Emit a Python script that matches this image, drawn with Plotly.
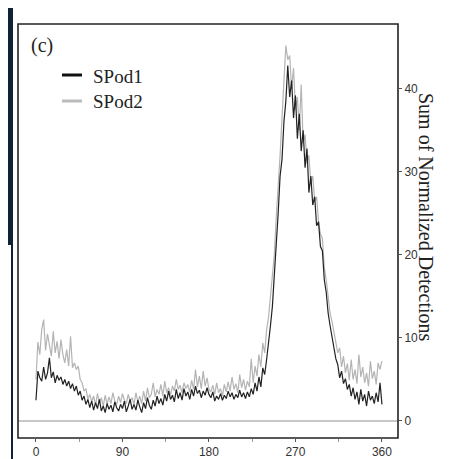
import plotly.graph_objects as go

# angle in degrees, sampled every 2 degrees
angle = list(range(0, 362, 2))

spod1 = [
    2.5, 6.0, 5.2, 4.8, 6.5, 5.0, 5.8, 7.6, 5.2, 5.9,
    4.6, 5.5, 4.9, 5.3, 4.4, 5.0, 4.2, 4.8, 3.9, 4.5,
    3.6, 4.2, 3.1, 3.6, 2.5, 3.0, 2.0, 2.6, 1.6, 2.4,
    1.3, 2.2, 1.5, 2.6, 1.2, 1.8, 1.0, 2.1, 1.4, 1.9,
    1.1, 2.3, 1.6, 1.2, 2.0, 1.5, 2.4, 1.1, 1.8, 2.6,
    1.4, 2.0, 1.3, 2.5, 1.7, 1.0, 2.2, 1.5, 2.8, 1.9,
    1.4, 2.5, 1.8, 3.0, 2.1, 2.7, 1.9, 3.2, 2.4, 3.6,
    2.6, 3.1, 2.3, 3.8, 2.7, 3.4, 2.5, 3.9, 3.0, 3.5,
    2.6, 3.8, 3.0, 4.2, 3.3, 3.7, 2.8, 3.6, 3.1, 4.0,
    3.2, 2.8, 3.5, 2.4, 3.0, 2.6, 3.3, 2.5, 3.1, 2.7,
    3.6, 2.9, 3.4, 2.6, 3.2, 2.8, 3.7, 2.9, 3.4, 2.7,
    3.5, 2.9, 3.9, 3.2, 4.6, 3.6, 5.3, 4.1, 6.4, 5.6,
    7.4, 9.2, 11.5, 13.8, 17.5, 20.5, 25.0, 29.5, 31.5, 36.0,
    38.5, 42.8, 39.0, 41.0, 36.5, 39.2, 34.0, 37.0, 32.5, 35.0,
    30.5, 32.8, 27.5, 29.5, 26.0, 27.0, 23.5, 24.0, 21.0, 20.5,
    17.0, 15.5, 13.0, 11.5, 10.0, 8.5, 7.5, 6.8, 5.2, 6.0,
    4.5, 5.1, 3.8, 4.4, 3.0, 4.0, 2.6, 3.5, 2.0, 3.8,
    2.4, 3.2, 1.8, 3.6, 2.5, 3.0, 2.1, 3.4, 2.3, 4.6,
    2.0,
]

spod2 = [
    5.0, 9.5, 8.0, 11.0, 12.2, 8.5, 10.5, 9.0, 7.8, 10.8,
    8.2, 9.6, 7.5, 9.8, 8.0, 7.0, 8.6, 6.6, 10.2, 6.4,
    7.0, 6.2, 6.6, 5.0, 4.6, 3.6, 3.9, 2.6, 3.2, 2.3,
    3.0, 1.9, 3.3, 2.2, 2.8, 1.8, 3.1, 2.0, 2.9, 2.1,
    3.4, 2.4, 2.0, 3.0, 2.2, 3.3, 2.5, 2.1, 3.2, 2.4,
    2.8, 2.0, 3.4, 2.3, 3.0, 2.1, 3.6, 2.4, 4.0, 2.8,
    3.2, 4.6, 2.9, 3.8, 3.2, 4.4, 3.0, 4.8, 3.4, 4.0,
    3.1, 4.2, 3.6, 5.0, 3.8, 4.3, 3.4, 4.6, 3.9, 4.4,
    3.5, 4.9, 3.8, 6.2, 4.1, 5.4, 3.9, 6.0, 4.2, 5.2,
    3.8, 3.5, 4.3, 3.2, 4.6, 3.4, 3.9, 3.0, 4.4, 3.5,
    4.7, 3.6, 5.3, 3.8, 4.5, 3.4, 5.6, 4.0, 5.0, 3.7,
    4.8, 4.1, 7.5, 4.6, 6.6, 5.4, 8.0, 6.5, 9.4, 8.2,
    11.0, 12.5, 15.0, 17.5, 20.0, 24.5, 28.0, 32.0, 36.5, 40.5,
    45.2, 43.5, 44.0, 40.0, 42.5, 37.5, 39.0, 35.0, 40.5, 33.5,
    34.5, 31.0, 32.0, 28.5, 29.5, 26.5, 27.0, 24.0, 22.5, 22.0,
    18.5, 17.0, 15.0, 13.0, 12.0, 10.5, 9.5, 8.2, 8.8, 6.5,
    7.8, 5.8, 6.9, 4.9, 7.4, 5.0, 6.2, 4.5, 8.0, 5.3,
    6.5, 4.6, 5.8, 4.2, 7.2, 5.1, 6.0, 4.4, 7.0, 6.2,
    7.2,
]

x_ticks = [0, 90, 180, 270, 360]
y_ticks = [0, 10, 20, 30, 40]

# the page body has an 8px margin, so the figure is shrunk by that much
# and every screen position below is given in window pixels
OFF = 8
W, H = 449 - OFF, 459 - OFF
L, R, T, B = 18, 398, 24, 438


def px(x):
    return (x - L) / (R - L)


def py(y):
    return (B - y) / (B - T)


fig = go.Figure()
fig.add_trace(go.Scatter(x=angle, y=spod2, mode="lines", name="SPod2",
                         line=dict(color="#b4b4b4", width=1.2)))
fig.add_trace(go.Scatter(x=angle, y=spod1, mode="lines", name="SPod1",
                         line=dict(color="#222", width=1.2)))

serif = "Liberation Serif, Times New Roman, serif"
sans = "Liberation Sans, Arial, sans-serif"
navy = "#0f2336"

shapes = [
    # frame of the panel
    dict(type="rect", xref="paper", yref="paper", x0=0, x1=1, y0=0, y1=1,
         line=dict(color="#222", width=1.6)),
    # bits of the neighbouring figure
    dict(type="rect", xref="paper", yref="paper", x0=px(OFF - 1), x1=px(13),
         y0=py(245), y1=py(OFF - 1), line_width=0, fillcolor=navy),
    dict(type="rect", xref="paper", yref="paper", x0=px(11), x1=px(13),
         y0=py(459 + 2), y1=py(245), line_width=0, fillcolor=navy),
    # legend keys
    dict(type="line", xref="paper", yref="paper", x0=px(62), x1=px(82),
         y0=py(75), y1=py(75), line=dict(color="#111", width=3)),
    dict(type="line", xref="paper", yref="paper", x0=px(62), x1=px(82),
         y0=py(101), y1=py(101), line=dict(color="#bbb", width=3)),
]

annotations = [
    dict(text="(c)", xref="paper", yref="paper", x=px(29), y=py(45),
         xanchor="left", yanchor="middle", showarrow=False,
         font=dict(family=serif, size=20, color="#222")),
    dict(text="SPod1", xref="paper", yref="paper", x=px(91), y=py(76),
         xanchor="left", yanchor="middle", showarrow=False,
         font=dict(family=serif, size=19, color="#222")),
    dict(text="SPod2", xref="paper", yref="paper", x=px(91), y=py(102),
         xanchor="left", yanchor="middle", showarrow=False,
         font=dict(family=serif, size=19, color="#222")),
    dict(text="Sum of Normalized Detections", xref="paper", yref="paper",
         x=px(426), y=py(217), textangle=90, showarrow=False,
         xanchor="center", yanchor="middle",
         font=dict(family=serif, size=20, color="#222")),
]

fig.update_layout(
    width=W, height=H,
    margin=dict(l=L - OFF, r=449 - R, t=T - OFF, b=459 - B, pad=0),
    paper_bgcolor="white", plot_bgcolor="white",
    showlegend=False,
    shapes=shapes,
    annotations=annotations,
    xaxis=dict(range=[-18.7, 376.7], tickvals=x_ticks, ticks="outside",
               ticklen=3, tickcolor="#555", showgrid=False, zeroline=False,
               showline=False, automargin=False,
               minor=dict(tickvals=[45, 135, 225, 315], ticks="outside",
                          ticklen=3, tickcolor="#999"),
               tickfont=dict(family=sans, size=12, color="#333")),
    yaxis=dict(range=[-2.05, 47.8], tickvals=y_ticks, side="right",
               ticks="outside", ticklen=3, tickcolor="#555", showgrid=False,
               zeroline=True, zerolinecolor="#c8c8c8", zerolinewidth=2,
               showline=False, automargin=False,
               tickfont=dict(family=sans, size=12, color="#333")),
)

fig.write_html("out.html")
